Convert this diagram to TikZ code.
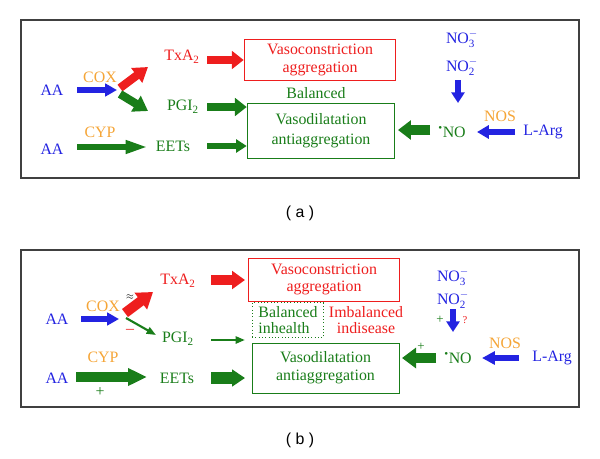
\documentclass[tikz,border=0pt]{standalone}
\usepackage{amsmath}
\usepackage{fontspec}
\setmainfont{Liberation Serif}
\newfontfamily\capfont{Liberation Sans}
\usetikzlibrary{arrows.meta}
\definecolor{nblue}{RGB}{35,35,225}
\definecolor{nred}{RGB}{238,30,30}
\definecolor{ngreen}{RGB}{25,125,25}
\definecolor{norange}{RGB}{245,165,55}
\newcommand{\ion}[1]{$\text{NO}^{-}_{\text{#1}}$}

\begin{document}
\begin{tikzpicture}[x=0.85pt,y=-0.85pt,font=\fontsize{13.5}{16}\selectfont,
  lbl/.style={inner sep=1pt},
  fat/.style n args={3}{line width=#1,-{Triangle[width=#2,length=#3]}},
  panel/.style={draw=black!75,line width=1.2pt},
  outcome/.style n args={3}{draw=#1,text=#1,line width=0.8pt,align=center,minimum width=#2,minimum height=#3}]
\useasboundingbox (0,0) rectangle (600,458);

% (a)
\draw[panel] (21,20) rectangle (579,178);
\node[lbl,text=nblue] (aa1) at (52,90) {AA};
\node[lbl,text=norange] (cox1) at (100,77) {COX};
\node[lbl,text=nred] (txa1) at (182,57) {TxA\textsubscript{2}};
\node[lbl,text=ngreen] (pgi1) at (183,107) {PGI\textsubscript{2}};
\node[lbl,text=norange] (cyp1) at (100,132) {CYP};
\node[lbl,text=nblue] (aa2) at (52,149) {AA};
\node[lbl,text=ngreen] (eets1) at (173,146) {EETs};
\node[outcome={nred}{129pt}{35.5pt}] (vc1) at (320,60) {Vasoconstriction\\aggregation};
\node[lbl,text=ngreen] (bal1) at (316,93) {Balanced};
\node[outcome={ngreen}{125.5pt}{47.5pt}, font=\fontsize{13.5}{17}\selectfont] (vd1) at (321,131) {Vasodilatation\\antiaggregation};
\node[lbl,text=nblue] (no3a) at (462,39) {\ion{3}};
\node[lbl,text=nblue] (no2a) at (462,67) {\ion{2}};
\node[lbl,text=ngreen] (noa) at (452,132) {\textsuperscript{\textbullet}NO};
\node[lbl,text=norange] (nosa) at (500,116) {NOS};
\node[lbl,text=nblue] (larga) at (543,132) {L-Arg};

\coordinate (fk1) at (117,90);
\coordinate (ta1) at (207,60);
\coordinate (pa1) at (207,107);
\coordinate (ea1) at (207,146);
\draw[nblue,fat={5pt}{10.5pt}{10pt}] (77,90) -- (fk1);
\draw[nred,fat={7pt}{15pt}{12pt}] (120,88) -- (148,67);
\draw[ngreen,fat={7pt}{15pt}{12pt}] (120,94) -- (148,111);
\draw[ngreen,fat={5.5pt}{10.5pt}{19pt}] (77,147) -- (148,147);
\draw[nred,fat={7.5pt}{15pt}{10pt}] (ta1) -- (ta1 -| vc1.west);
\draw[ngreen,fat={7.5pt}{15pt}{10pt}] (pa1) -- (pa1 -| vd1.west);
\draw[ngreen,fat={5.5pt}{11pt}{9pt}] (ea1) -- (ea1 -| vd1.west);
\draw[nblue,fat={5.5pt}{11pt}{9pt}] (458,80) -- (458,103);
\draw[ngreen,fat={8pt}{16pt}{11pt}] (430,130) -- (398,130);
\draw[nblue,fat={5.5pt}{11pt}{10pt}] (515,132) -- (477,132);

\node[lbl,font=\capfont\fontsize{13.5}{15}\selectfont] (capa) at (300,213) {( a )};

% (b)
\draw[panel] (21,250) rectangle (579,407);
\node[lbl,text=nblue] (aa3) at (57,319) {AA};
\node[lbl,text=norange] (cox2) at (103,306) {COX};
\node[lbl,font=\fontsize{8}{9}\selectfont] (apx) at (130,297) {$\approx$};
\node[lbl,text=nred] (mns) at (130,331) {--};
\node[lbl,text=nred] (txa2) at (178,281) {TxA\textsubscript{2}};
\node[lbl,text=ngreen] (pgi2) at (178,339) {PGI\textsubscript{2}};
\node[lbl,text=norange] (cyp2) at (103,357) {CYP};
\node[lbl,text=nblue] (aa4) at (57,378) {AA};
\node[lbl,text=ngreen] (pls1) at (100,392) {+};
\node[lbl,text=ngreen] (eets2) at (177,378) {EETs};
\node[outcome={nred}{129pt}{36.5pt}, font=\fontsize{13.5}{14.5}\selectfont] (vc2) at (324,279.5) {Vasoconstriction\\aggregation};
\node[draw=ngreen,dotted,thick,text=ngreen,align=left,minimum width=61pt,minimum height=29pt,inner sep=2pt,
  font=\fontsize{13.5}{13}\selectfont] (bal2) at (288,320) {Balanced\\inhealth};
\node[lbl,text=nred,align=center,font=\fontsize{13.5}{13}\selectfont] (imb) at (366,320) {Imbalanced\\indisease};
\node[outcome={ngreen}{125pt}{42.5pt}, font=\fontsize{13.5}{15.5}\selectfont] (vd2) at (325.5,368) {Vasodilatation\\antiaggregation};
\node[lbl,text=nblue] (no3b) at (453,277) {\ion{3}};
\node[lbl,text=nblue] (no2b) at (453,300) {\ion{2}};
\node[lbl,text=ngreen,font=\fontsize{11}{12}\selectfont] (pls2) at (440,320) {+};
\node[lbl,text=nred,font=\fontsize{9}{10}\selectfont] (qst) at (465,320) {?};
\node[lbl,text=ngreen] (nob) at (458,358) {\textsuperscript{\textbullet}NO};
\node[lbl,text=ngreen,font=\fontsize{11}{12}\selectfont] (pls3) at (421,347) {+};
\node[lbl,text=norange] (nosb) at (505,343) {NOS};
\node[lbl,text=nblue] (largb) at (552,358) {L-Arg};

\coordinate (fk2) at (119,319);
\draw[nblue,fat={5pt}{10.5pt}{10pt}] (81,319) -- (fk2);
\draw[nred,fat={8.5pt}{17pt}{13pt}] (125,313) -- (153,292);
\draw[ngreen,fat={1.8pt}{6pt}{8pt}] (126,318) -- (156,335);
\draw[ngreen,fat={9pt}{14pt}{16pt}] (76,377) -- (147,377);
\draw[nred,fat={9pt}{15pt}{11pt}] (211,280) -- (245,280);
\draw[ngreen,fat={2pt}{6pt}{8pt}] (211,340) -- (245,340);
\draw[ngreen,fat={10pt}{14pt}{11pt}] (211,378) -- (245,378);
\draw[nblue,fat={5.5pt}{11pt}{9pt}] (453,309) -- (453,332);
\draw[ngreen,fat={9pt}{17pt}{12pt}] (436,358) -- (402,358);
\draw[nblue,fat={5.5pt}{11pt}{11pt}] (519,358) -- (482,358);

\node[lbl,font=\capfont\fontsize{13.5}{15}\selectfont] (capb) at (300,440) {( b )};
\end{tikzpicture}
\end{document}
